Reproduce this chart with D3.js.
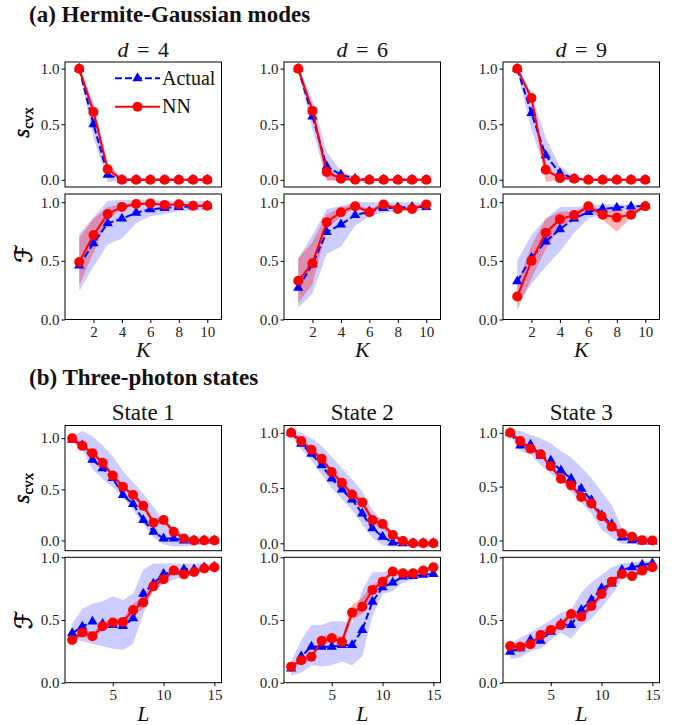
<!DOCTYPE html>
<html><head><meta charset="utf-8">
<script src="https://cdn.jsdelivr.net/npm/d3@7"></script>
<style>body{margin:0;background:#fff} svg{display:block}</style>
</head><body><svg id="c" width="688" height="725"></svg>
<script>
// ---------- categories / ticks ----------
const K = [1,2,3,4,5,6,7,8,9,10];
const L = [1,2,3,4,5,6,7,8,9,10,11,12,13,14,15];
const hgDims = ["4", "6", "9"];
const tpStates = ["State 1", "State 2", "State 3"];
const hgXTicks = [2,4,6,8,10];
const tpXTicks = [5,10,15];
const yTicks = [0, 0.5, 1.0];
const legendLabels = ["Actual", "NN"];

// ---------- (a) Hermite-Gaussian: s_cvx ----------
const hgScvxAct = [
  [1.0,0.50,0.045,0,0,0,0,0,0,0],
  [1.0,0.57,0.12,0.045,0.01,0,0,0,0,0],
  [1.0,0.60,0.22,0.06,0.01,0,0,0,0,0]];
const hgScvxActLo = [
  [0.98,0.38,-0.02,-0.01,-0.01,-0.01,-0.01,-0.01,-0.01,-0.01],
  [0.98,0.45,0.0,-0.01,-0.01,-0.01,-0.01,-0.01,-0.01,-0.01],
  [0.98,0.45,0.08,0.0,-0.01,-0.01,-0.01,-0.01,-0.01,-0.01]];
const hgScvxActHi = [
  [1.02,0.70,0.14,0.02,0.01,0.01,0.01,0.01,0.01,0.01],
  [1.02,0.72,0.25,0.08,0.025,0.01,0.01,0.01,0.01,0.01],
  [1.02,0.77,0.38,0.12,0.03,0.01,0.01,0.01,0.01,0.01]];
const hgScvxNN = [
  [1.0,0.61,0.095,0,0,0,0,0,0,0],
  [1.0,0.62,0.07,0.01,0,0,0,0,0,0],
  [1.0,0.735,0.09,0.015,0.01,0,0,0,0,0]];
const hgScvxNNLo = [
  [0.99,0.56,0.05,-0.005,-0.005,-0.005,-0.005,-0.005,-0.005,-0.005],
  [0.99,0.58,-0.01,-0.005,-0.005,-0.005,-0.005,-0.005,-0.005,-0.005],
  [0.99,0.70,-0.02,0.0,0.0,-0.005,-0.005,-0.005,-0.005,-0.005]];
const hgScvxNNHi = [
  [1.01,0.66,0.14,0.01,0.01,0.01,0.01,0.01,0.01,0.01],
  [1.01,0.66,0.10,0.02,0.01,0.01,0.01,0.01,0.01,0.01],
  [1.01,0.77,0.12,0.03,0.02,0.01,0.01,0.01,0.01,0.01]];

// ---------- (a) Hermite-Gaussian: fidelity ----------
const hgFAct = [
  [0.46,0.65,0.82,0.86,0.91,0.94,0.95,0.96,0.965,0.97],
  [0.27,0.47,0.745,0.81,0.89,0.92,0.95,0.955,0.96,0.96],
  [0.325,0.525,0.665,0.77,0.86,0.916,0.944,0.953,0.964,0.966]];
const hgFActLo = [
  [0.24,0.45,0.64,0.69,0.82,0.88,0.90,0.92,0.93,0.93],
  [0.10,0.22,0.56,0.62,0.80,0.88,0.91,0.92,0.93,0.93],
  [0.14,0.30,0.45,0.58,0.74,0.86,0.90,0.92,0.93,0.93]];
const hgFActHi = [
  [0.73,0.87,1.01,1.02,1.02,1.02,1.01,1.01,1.01,1.01],
  [0.52,0.72,0.94,0.97,1.0,1.0,1.0,1.0,1.0,1.0],
  [0.50,0.72,0.86,0.96,0.96,0.97,0.98,0.98,0.98,0.98]];
const hgFNN = [
  [0.49,0.72,0.90,0.96,0.985,0.99,0.977,0.983,0.97,0.97],
  [0.33,0.48,0.83,0.915,0.966,0.915,0.98,0.943,0.943,0.98],
  [0.196,0.50,0.74,0.855,0.89,0.965,0.894,0.87,0.894,0.966]];
const hgFNNLo = [
  [0.29,0.57,0.86,0.94,0.975,0.98,0.97,0.975,0.96,0.96],
  [0.14,0.30,0.77,0.88,0.95,0.90,0.96,0.93,0.93,0.965],
  [0.08,0.35,0.60,0.79,0.86,0.94,0.85,0.75,0.87,0.95]];
const hgFNNHi = [
  [0.70,0.86,0.96,0.98,0.995,1.0,0.99,0.99,0.98,0.98],
  [0.52,0.66,0.90,0.95,0.99,0.94,1.0,0.96,0.96,0.995],
  [0.30,0.63,0.86,0.92,0.92,0.98,0.93,0.93,0.92,0.98]];

// ---------- (b) Three-photon: s_cvx ----------
const tpScvxAct = [
  [0.985,0.93,0.79,0.705,0.61,0.444,0.356,0.20,0.085,0.02,0.02,0,0,0,0],
  [1.0,0.90,0.81,0.706,0.586,0.486,0.396,0.27,0.135,0.06,0.006,0,0,0,0],
  [1.0,0.883,0.89,0.79,0.74,0.65,0.574,0.48,0.373,0.235,0.151,0.028,0.003,-0.01,-0.01]];
const tpScvxActLo = [
  [0.96,0.88,0.70,0.60,0.52,0.42,0.30,0.16,0.03,-0.04,-0.06,-0.06,-0.05,-0.04,-0.03],
  [0.97,0.85,0.75,0.62,0.50,0.40,0.30,0.17,0.05,-0.02,-0.03,-0.03,-0.02,-0.02,-0.02],
  [0.97,0.83,0.80,0.70,0.62,0.55,0.45,0.35,0.25,0.10,0.03,-0.03,-0.03,-0.03,-0.03]];
const tpScvxActHi = [
  [1.02,1.07,1.02,0.93,0.82,0.68,0.57,0.46,0.33,0.20,0.12,0.05,0.02,0.01,0.01],
  [1.03,1.0,0.95,0.88,0.78,0.68,0.58,0.47,0.30,0.20,0.09,0.03,0.01,0.01,0.01],
  [1.03,1.02,0.98,0.95,0.90,0.83,0.77,0.68,0.58,0.45,0.33,0.12,0.07,0.02,0.01]];
const tpScvxNN = [
  [1.0,0.925,0.853,0.76,0.634,0.526,0.444,0.34,0.173,0.20,0.085,0.02,0,0,0],
  [1.0,0.925,0.847,0.766,0.646,0.547,0.441,0.37,0.21,0.174,0.075,0.02,0,0,0],
  [1.0,0.923,0.852,0.80,0.69,0.574,0.512,0.404,0.343,0.225,0.127,0.065,0.034,0.003,0]];
const tpScvxNNLo = [
  [0.98,0.90,0.83,0.73,0.61,0.50,0.42,0.31,0.15,0.17,0.06,0.0,-0.01,-0.01,-0.01],
  [0.98,0.90,0.82,0.74,0.62,0.52,0.41,0.34,0.18,0.13,0.05,0.0,-0.01,-0.01,-0.01],
  [0.98,0.90,0.83,0.78,0.67,0.55,0.49,0.38,0.32,0.20,0.10,0.045,0.015,-0.01,-0.01]];
const tpScvxNNHi = [
  [1.02,0.95,0.88,0.79,0.66,0.55,0.47,0.37,0.22,0.23,0.11,0.04,0.01,0.01,0.01],
  [1.02,0.95,0.87,0.79,0.67,0.57,0.47,0.40,0.25,0.22,0.10,0.04,0.01,0.01,0.01],
  [1.02,0.945,0.875,0.82,0.71,0.60,0.535,0.43,0.37,0.25,0.15,0.085,0.05,0.015,0.01]];

// ---------- (b) Three-photon: fidelity ----------
const tpFAct = [
  [0.394,0.447,0.487,0.468,0.46,0.452,0.513,0.71,0.79,0.867,0.886,0.904,0.904,0.92,0.926],
  [0.114,0.21,0.287,0.287,0.287,0.30,0.30,0.42,0.646,0.76,0.798,0.846,0.85,0.86,0.867],
  [0.247,0.274,0.34,0.335,0.407,0.468,0.46,0.58,0.66,0.753,0.79,0.90,0.92,0.94,0.952]];
const tpFActLo = [
  [0.35,0.33,0.31,0.29,0.27,0.26,0.31,0.55,0.74,0.79,0.82,0.85,0.87,0.89,0.90],
  [0.06,0.08,0.14,0.13,0.14,0.17,0.14,0.21,0.53,0.71,0.73,0.80,0.82,0.84,0.85],
  [0.19,0.20,0.25,0.27,0.34,0.40,0.35,0.45,0.51,0.60,0.70,0.82,0.85,0.88,0.90]];
const tpFActHi = [
  [0.47,0.59,0.63,0.65,0.69,0.66,0.71,0.90,0.95,0.95,0.95,0.95,0.95,0.95,0.95],
  [0.17,0.34,0.46,0.46,0.49,0.49,0.47,0.74,0.88,0.88,0.90,0.90,0.90,0.90,0.90],
  [0.30,0.36,0.40,0.45,0.50,0.56,0.58,0.72,0.80,0.86,0.92,0.95,0.96,0.97,0.97]];
const tpFNN = [
  [0.34,0.40,0.37,0.45,0.48,0.485,0.58,0.64,0.77,0.825,0.895,0.864,0.883,0.91,0.92],
  [0.128,0.18,0.207,0.335,0.354,0.327,0.559,0.606,0.74,0.806,0.886,0.872,0.872,0.894,0.92],
  [0.293,0.287,0.306,0.38,0.42,0.46,0.548,0.527,0.612,0.707,0.806,0.867,0.85,0.894,0.92]];
const tpFNNLo = [
  [0.32,0.37,0.34,0.42,0.45,0.46,0.53,0.59,0.74,0.80,0.87,0.84,0.86,0.89,0.90],
  [0.11,0.16,0.18,0.31,0.32,0.30,0.50,0.55,0.70,0.78,0.87,0.85,0.85,0.88,0.90],
  [0.27,0.26,0.28,0.35,0.39,0.43,0.51,0.50,0.58,0.68,0.78,0.85,0.83,0.87,0.90]];
const tpFNNHi = [
  [0.36,0.43,0.40,0.48,0.51,0.51,0.63,0.69,0.80,0.85,0.92,0.89,0.90,0.93,0.94],
  [0.15,0.20,0.23,0.36,0.40,0.36,0.62,0.68,0.78,0.83,0.90,0.89,0.89,0.91,0.94],
  [0.32,0.31,0.33,0.41,0.45,0.49,0.58,0.56,0.64,0.73,0.83,0.89,0.87,0.92,0.94]];

// ---------- layout ----------
const svg = d3.select("#c");
const SERIF = "'Liberation Serif','Times New Roman',serif";
const colX = [65, 284, 503], PW = 156.5;
const rowY = {aS:[62,187], aF:[194,319.5], bS:[425.5,550.7], bF:[557.3,682.7]};
const hgXDom = [0, 11], tpXDom = [0.3, 15.7];
const hgSDom = [[-0.065,1.06],[-0.065,1.06],[-0.065,1.06]];
const hgFDom = [[0,1.07],[0,1.07],[0,1.07]];
const tpSDom = [[-0.1,1.124],[-0.067,1.066],[-0.095,1.068]];
const tpFDom = [[0,1],[0,1],[0,1]];

const BLUE = "#0000ff", RED = "#ff0000";
let clipN = 0;

function panel(o) {
  const x = d3.scaleLinear().domain(o.xDom).range([o.x0, o.x0 + PW]);
  const y = d3.scaleLinear().domain(o.yDom).range([o.y1, o.y0]);
  const g = svg.append("g");
  const cid = "clip" + (clipN++);
  g.append("clipPath").attr("id", cid).append("rect")
    .attr("x", o.x0).attr("y", o.y0).attr("width", PW).attr("height", o.y1 - o.y0);
  const pts = (v) => o.xs.map((xx, i) => [xx, v[i]]);
  const band = (lo, hi) => o.xs.map((xx, i) => ({x: xx, lo: lo[i], hi: hi[i]}));
  const area = d3.area().x(d => x(d.x)).y0(d => y(d.lo)).y1(d => y(d.hi));
  const line = d3.line().x(d => x(d[0])).y(d => y(d[1]));
  const cg = g.append("g").attr("clip-path", `url(#${cid})`);
  cg.append("path").attr("d", area(band(o.aLo, o.aHi))).attr("fill", BLUE).attr("fill-opacity", 0.2);
  cg.append("path").attr("d", area(band(o.nLo, o.nHi))).attr("fill", RED).attr("fill-opacity", 0.3);
  cg.append("path").attr("d", line(pts(o.a))).attr("fill", "none").attr("stroke", BLUE)
    .attr("stroke-width", 2).attr("stroke-dasharray", "7,3");
  const tri = d3.symbol(d3.symbolTriangle, 46);
  g.append("g").selectAll("path").data(pts(o.a)).join("path")
    .attr("d", tri).attr("transform", d => `translate(${x(d[0])},${y(d[1])})`).attr("fill", BLUE);
  g.append("path").attr("d", line(pts(o.n))).attr("fill", "none").attr("stroke", RED).attr("stroke-width", 2);
  g.append("g").selectAll("circle").data(pts(o.n)).join("circle")
    .attr("cx", d => x(d[0])).attr("cy", d => y(d[1])).attr("r", 5).attr("fill", RED);
  // frame
  g.append("rect").attr("x", o.x0).attr("y", o.y0).attr("width", PW).attr("height", o.y1 - o.y0)
    .attr("fill", "none").attr("stroke", "#000").attr("stroke-width", 1);
  // y axis
  const ya = g.append("g").attr("transform", `translate(${o.x0},0)`)
    .call(d3.axisLeft(y).tickValues(yTicks).tickFormat(d3.format(".1f")).tickSize(3.5).tickPadding(2));
  ya.select(".domain").remove();
  ya.selectAll("text").attr("font-family", SERIF).attr("font-size", 15).attr("fill", "#222");
  ya.selectAll("line").attr("stroke", "#000");
  // x axis
  if (o.xTicks) {
    const xa = g.append("g").attr("transform", `translate(0,${o.y1})`)
      .call(d3.axisBottom(x).tickValues(o.xTicks).tickFormat(d3.format("d")).tickSize(3.5).tickPadding(3));
    xa.select(".domain").remove();
    xa.selectAll("text").attr("font-family", SERIF).attr("font-size", 15).attr("fill", "#222");
    xa.selectAll("line").attr("stroke", "#000");
  }
  // y label
  const cy = (o.y0 + o.y1) / 2 + (o.yLabShift || 0);
  if (o.yLab === "s") {
    const t = g.append("text").attr("transform", `translate(29,${cy}) rotate(-90)`)
      .attr("text-anchor", "middle").attr("font-family", SERIF).attr("fill", "#111");
    t.append("tspan").attr("font-style", "italic").attr("font-size", 23).text("s");
    t.append("tspan").attr("font-size", 15).attr("dy", 4).text("cvx");
  } else {
    g.append("text").attr("transform", `translate(32,${cy}) rotate(-90)`)
      .attr("text-anchor", "middle").attr("font-family", "'DejaVu Serif','DejaVu Sans',serif")
      .attr("font-size", 24).attr("fill", "#111").text("\u2131");
  }
  if (o.xLab) {
    g.append("text").attr("x", o.x0 + PW / 2).attr("y", o.xLabY).attr("text-anchor", "middle")
      .attr("font-family", SERIF).attr("font-style", "italic").attr("font-size", 22).attr("fill", "#111").text(o.xLab);
  }
  return {x, y, g};
}

// ---------- headers ----------
svg.append("text").attr("x", 29).attr("y", 22).attr("font-family", SERIF).attr("font-weight", "bold")
  .attr("font-size", 23).attr("fill", "#111").text("(a) Hermite-Gaussian modes");
svg.append("text").attr("x", 29).attr("y", 385).attr("font-family", SERIF).attr("font-weight", "bold")
  .attr("font-size", 23).attr("fill", "#111").text("(b) Three-photon states");

for (let c = 0; c < 3; c++) {
  const cx = colX[c] + PW / 2;
  const t = svg.append("text").attr("x", cx).attr("y", 57).attr("text-anchor", "middle")
    .attr("font-family", SERIF).attr("font-size", 22).attr("fill", "#111").attr("word-spacing", 3);
  t.append("tspan").attr("font-style", "italic").text("d");
  t.append("tspan").text(" = " + hgDims[c]);
  svg.append("text").attr("x", cx).attr("y", 420).attr("text-anchor", "middle")
    .attr("font-family", SERIF).attr("font-size", 23).attr("fill", "#111").text(tpStates[c]);

  panel({x0: colX[c], y0: rowY.aS[0], y1: rowY.aS[1], xDom: hgXDom, yDom: hgSDom[c], xs: K,
    a: hgScvxAct[c], aLo: hgScvxActLo[c], aHi: hgScvxActHi[c],
    n: hgScvxNN[c], nLo: hgScvxNNLo[c], nHi: hgScvxNNHi[c], yLab: "s", yLabShift: -2});
  panel({x0: colX[c], y0: rowY.aF[0], y1: rowY.aF[1], xDom: hgXDom, yDom: hgFDom[c], xs: K,
    a: hgFAct[c], aLo: hgFActLo[c], aHi: hgFActHi[c],
    n: hgFNN[c], nLo: hgFNNLo[c], nHi: hgFNNHi[c], yLab: "F", yLabShift: -3,
    xTicks: hgXTicks, xLab: "K", xLabY: 357});
  panel({x0: colX[c], y0: rowY.bS[0], y1: rowY.bS[1], xDom: tpXDom, yDom: tpSDom[c], xs: L,
    a: tpScvxAct[c], aLo: tpScvxActLo[c], aHi: tpScvxActHi[c],
    n: tpScvxNN[c], nLo: tpScvxNNLo[c], nHi: tpScvxNNHi[c], yLab: "s"});
  panel({x0: colX[c], y0: rowY.bF[0], y1: rowY.bF[1], xDom: tpXDom, yDom: tpFDom[c], xs: L,
    a: tpFAct[c], aLo: tpFActLo[c], aHi: tpFActHi[c],
    n: tpFNN[c], nLo: tpFNNLo[c], nHi: tpFNNHi[c], yLab: "F",
    xTicks: tpXTicks, xLab: "L", xLabY: 721});
}

// ---------- legend (in first panel) ----------
const lg = svg.append("g");
const lx0 = 115, lx1 = 160, ly = [78.3, 106.7];
lg.append("line").attr("x1", lx0).attr("x2", lx1).attr("y1", ly[0]).attr("y2", ly[0])
  .attr("stroke", BLUE).attr("stroke-width", 2).attr("stroke-dasharray", "7,3");
lg.append("path").attr("d", d3.symbol(d3.symbolTriangle, 46)).attr("transform", `translate(${(lx0+lx1)/2},${ly[0]})`).attr("fill", BLUE);
lg.append("line").attr("x1", lx0).attr("x2", lx1).attr("y1", ly[1]).attr("y2", ly[1])
  .attr("stroke", RED).attr("stroke-width", 2);
lg.append("circle").attr("cx", (lx0+lx1)/2).attr("cy", ly[1]).attr("r", 5).attr("fill", RED);
legendLabels.forEach((s, i) => {
  lg.append("text").attr("x", lx1 + 2).attr("y", ly[i] + 6.5).attr("font-family", SERIF)
    .attr("font-size", 20).attr("fill", "#111").text(s);
});
</script></body></html>
